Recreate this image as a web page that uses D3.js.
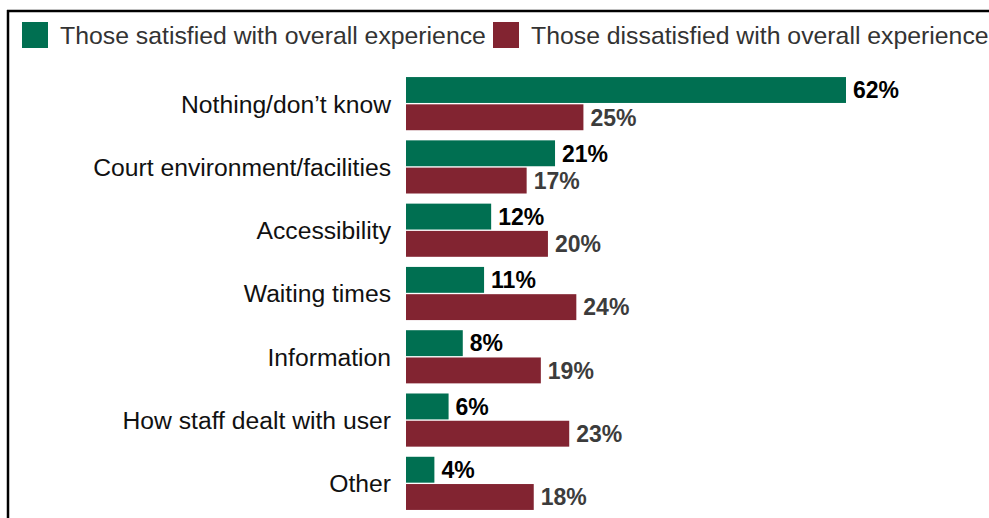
<!DOCTYPE html>
<html>
<head>
<meta charset="utf-8">
<script src="https://cdn.jsdelivr.net/npm/d3@7"></script>
<style>
  html, body { margin: 0; padding: 0; background: #fff; }
  svg { display: block; font-family: "Liberation Sans", Arial, sans-serif; }
</style>
</head>
<body>
<svg id="chart" width="989" height="518"></svg>
<script>
// Reasons given, by overall satisfaction with the court visit
const categories = [
  "Nothing/don\u2019t know",
  "Court environment/facilities",
  "Accessibility",
  "Waiting times",
  "Information",
  "How staff dealt with user",
  "Other"
];
const satisfied = [62, 21, 12, 11, 8, 6, 4];
const dissatisfied = [25, 17, 20, 24, 19, 23, 18];
const seriesNames = [
  "Those satisfied with overall experience",
  "Those dissatisfied with overall experience"
];
const seriesColors = ["#006f51", "#822431"];
const labelColors = ["#000000", "#3c3c3c"];

const svg = d3.select("#chart");

// Frame lines (top and left edges of the panel)
svg.append("line").attr("x1", 7).attr("x2", 989).attr("y1", 11).attr("y2", 11)
  .attr("stroke", "#000").attr("stroke-width", 2.5);
svg.append("line").attr("x1", 8).attr("x2", 8).attr("y1", 10).attr("y2", 518)
  .attr("stroke", "#000").attr("stroke-width", 2.5);

// Legend
const legendX = [22, 493];
seriesNames.forEach((name, i) => {
  const g = svg.append("g").attr("transform", `translate(${legendX[i]},22)`);
  g.append("rect").attr("width", 26).attr("height", 26).attr("fill", seriesColors[i]);
  g.append("text").attr("x", 38).attr("y", 22)
    .attr("font-size", 24.8).attr("fill", "#333").text(name);
});

// Scales
const x = d3.scaleLinear().domain([0, 62]).range([406, 846]);
const y = d3.scaleBand().domain(categories).range([72, 515]).paddingInner(0.16).paddingOuter(0.08);
const sub = d3.scaleBand().domain([0, 1]).range([0, y.bandwidth()]).paddingInner(0.05);

const rows = categories.map((c, i) => ({ c, vals: [satisfied[i], dissatisfied[i]] }));

const groups = svg.selectAll("g.row").data(rows).join("g")
  .attr("class", "row")
  .attr("transform", d => `translate(0,${y(d.c)})`);

// Category labels
groups.append("text")
  .attr("x", 391)
  .attr("y", y.bandwidth() / 2)
  .attr("dy", "0.36em")
  .attr("text-anchor", "end")
  .attr("font-size", 24.7)
  .attr("fill", "#111")
  .text(d => d.c);

// Bars
groups.selectAll("rect").data(d => d.vals).join("rect")
  .attr("x", x(0))
  .attr("y", (v, i) => sub(i))
  .attr("width", v => x(v) - x(0))
  .attr("height", sub.bandwidth())
  .attr("fill", (v, i) => seriesColors[i]);

// Value labels
groups.selectAll("text.val").data(d => d.vals).join("text")
  .attr("class", "val")
  .attr("x", v => x(v) + 7)
  .attr("y", (v, i) => sub(i) + sub.bandwidth() / 2)
  .attr("dy", "0.36em")
  .attr("font-size", 23)
  .attr("font-weight", "bold")
  .attr("fill", (v, i) => labelColors[i])
  .text(v => v + "%");
</script>
</body>
</html>
